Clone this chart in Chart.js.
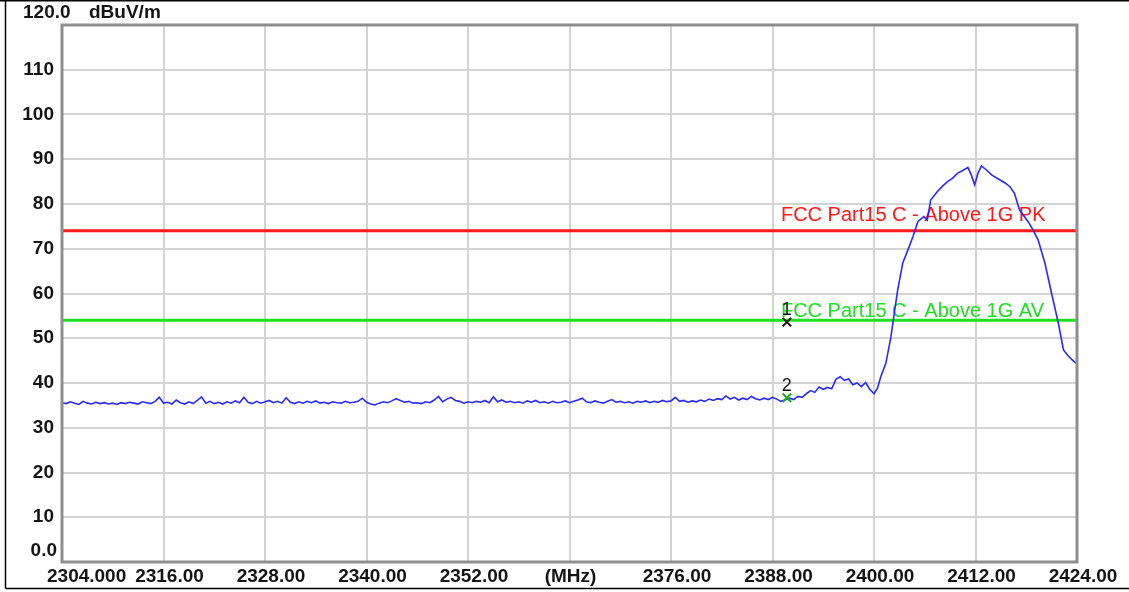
<!DOCTYPE html>
<html>
<head>
<meta charset="utf-8">
<script src="https://cdn.jsdelivr.net/npm/chart.js@4.4.1/dist/chart.umd.min.js"></script>
<style>
html, body { margin: 0; padding: 0; background: #fff; }
#wrap { width: 1129px; height: 592px; position: relative; }
</style>
</head>
<body>
<div id="wrap"><canvas id="chart"></canvas></div>
<script>
// sweep: frequency (MHz) and level (dBuV/m)
var freqs = [
  2304.0, 2304.5, 2305.0, 2305.5, 2306.0, 2306.5, 2307.0, 2307.5, 2308.0, 2308.5,
  2309.0, 2309.5, 2310.0, 2310.5, 2311.0, 2311.5, 2312.0, 2312.5, 2313.0, 2313.5,
  2314.0, 2314.5, 2315.0, 2315.5, 2316.0, 2316.5, 2317.0, 2317.5, 2318.0, 2318.5,
  2319.0, 2319.5, 2320.0, 2320.5, 2321.0, 2321.5, 2322.0, 2322.5, 2323.0, 2323.5,
  2324.0, 2324.5, 2325.0, 2325.5, 2326.0, 2326.5, 2327.0, 2327.5, 2328.0, 2328.5,
  2329.0, 2329.5, 2330.0, 2330.5, 2331.0, 2331.5, 2332.0, 2332.5, 2333.0, 2333.5,
  2334.0, 2334.5, 2335.0, 2335.5, 2336.0, 2336.5, 2337.0, 2337.5, 2338.0, 2338.5,
  2339.0, 2339.5, 2340.0, 2340.5, 2341.0, 2341.5, 2342.0, 2342.5, 2343.0, 2343.5,
  2344.0, 2344.5, 2345.0, 2345.5, 2346.0, 2346.5, 2347.0, 2347.5, 2348.0, 2348.5,
  2349.0, 2349.5, 2350.0, 2350.5, 2351.0, 2351.5, 2352.0, 2352.5, 2353.0, 2353.5,
  2354.0, 2354.5, 2355.0, 2355.5, 2356.0, 2356.5, 2357.0, 2357.5, 2358.0, 2358.5,
  2359.0, 2359.5, 2360.0, 2360.5, 2361.0, 2361.5, 2362.0, 2362.5, 2363.0, 2363.5,
  2364.0, 2364.5, 2365.0, 2365.5, 2366.0, 2366.5, 2367.0, 2367.5, 2368.0, 2368.5,
  2369.0, 2369.5, 2370.0, 2370.5, 2371.0, 2371.5, 2372.0, 2372.5, 2373.0, 2373.5,
  2374.0, 2374.5, 2375.0, 2375.5, 2376.0, 2376.5, 2377.0, 2377.5, 2378.0, 2378.5,
  2379.0, 2379.5, 2380.0, 2380.5, 2381.0, 2381.5, 2382.0, 2382.5, 2383.0, 2383.5,
  2384.0, 2384.5, 2385.0, 2385.5, 2386.0, 2386.5, 2387.0, 2387.5, 2388.0, 2388.5,
  2389.0, 2389.5, 2390.0, 2390.5, 2391.0, 2391.5, 2392.0, 2392.5, 2393.0, 2393.5,
  2394.0, 2394.5, 2395.0, 2395.5, 2396.0, 2396.5, 2397.0, 2397.5, 2398.0, 2398.5,
  2399.0, 2399.5, 2400.0, 2400.4, 2400.8, 2401.4, 2402.0, 2402.4, 2402.8, 2403.4,
  2404.0, 2404.6, 2405.2, 2405.9, 2406.3, 2406.7, 2407.5, 2408.1, 2408.7, 2409.3,
  2409.9, 2410.5, 2411.1, 2411.5, 2411.9, 2412.3, 2412.7, 2413.3, 2413.9, 2414.7,
  2415.5, 2416.1, 2416.6, 2417.2, 2418.2, 2418.8, 2419.4, 2420.2, 2421.0, 2421.8,
  2422.4, 2422.9, 2423.4, 2423.9, 2424.0
];
var levels = [
  35.6, 35.4, 35.8, 35.5, 35.2, 35.9, 35.5, 35.3, 35.7, 35.4,
  35.6, 35.3, 35.5, 35.2, 35.6, 35.4, 35.7, 35.5, 35.3, 35.8,
  35.6, 35.4, 35.9, 36.8, 35.5, 35.7, 35.3, 36.2, 35.6, 35.3,
  35.8, 35.4, 36.1, 36.9, 35.5, 35.9, 35.4, 35.7, 35.3, 35.8,
  35.5, 36.0, 35.6, 36.8, 35.7, 35.4, 35.9, 35.5, 35.8, 36.1,
  35.6, 35.9, 35.5, 36.7, 35.7, 35.4, 35.8, 35.5, 35.9, 35.6,
  36.0, 35.5, 35.7, 35.4, 35.8, 35.6, 35.5, 35.9, 35.6, 35.7,
  35.9, 36.6, 35.7, 35.3, 35.1, 35.5, 35.8, 35.6, 36.0, 36.5,
  36.1, 35.7, 35.9, 35.5, 35.6, 35.4, 35.8, 35.6, 36.2, 37.0,
  35.8, 36.4, 36.8, 36.1, 35.9, 35.5, 35.8, 35.6, 35.9, 35.7,
  36.1, 35.6, 36.9, 35.8, 36.2, 35.7, 35.9, 35.6, 35.8, 35.5,
  36.0, 35.7, 36.1, 35.6, 35.8, 35.5, 35.9, 35.6, 35.7, 36.0,
  35.6, 35.9, 36.2, 36.6, 35.8, 35.6, 36.0, 35.7, 35.5, 35.9,
  36.3, 35.7, 35.9, 35.6, 35.8, 35.5, 35.9, 35.7, 36.0, 35.6,
  35.9, 35.7, 36.1, 35.8, 36.0, 36.8, 35.9, 36.1, 35.7, 36.0,
  35.8, 36.2, 35.9, 36.4, 36.1, 36.5, 36.3, 37.1, 36.4, 36.8,
  36.2, 36.6, 36.3, 37.0, 36.5, 36.2, 36.6, 36.3, 36.8, 36.4,
  35.9, 36.2, 36.6, 36.3, 37.0, 36.8, 37.6, 38.3, 37.9, 39.1,
  38.6, 39.0, 38.7, 40.8, 41.4, 40.6, 40.9, 39.6, 40.0, 39.2,
  40.1, 38.6, 37.6, 38.8, 41.4, 44.4, 50.3, 55.6, 60.8, 66.8,
  69.7, 72.7, 76.1, 77.2, 76.4, 80.9, 82.8, 84.0, 85.0, 85.8,
  86.9, 87.5, 88.2, 86.5, 84.3, 86.9, 88.5, 87.6, 86.5, 85.6,
  84.7, 83.8, 82.4, 78.7, 76.1, 74.2, 72.0, 66.8, 60.0, 53.3,
  47.4, 46.2, 45.2, 44.4, 44.2
];

// limit lines
var limitNames = ['FCC Part15 C - Above 1G PK', 'FCC Part15 C - Above 1G AV'];
var limitLevels = [74, 54];
var limitColors = ['#ff1a1a', '#1ee01e'];

// markers
var markerNames = ['1', '2'];
var markerFreqs = [2389.7, 2389.7];
var markerLevels = [53.6, 36.7];
var markerColors = ['#111111', '#22aa22'];

// axes
var xTicks = [2304, 2316, 2328, 2340, 2352, 2364, 2376, 2388, 2400, 2412, 2424];
var xTickLabels = ['2304.000', '2316.00', '2328.00', '2340.00', '2352.00', '(MHz)',
  '2376.00', '2388.00', '2400.00', '2412.00', '2424.00'];
var yTicks = [0, 10, 20, 30, 40, 50, 60, 70, 80, 90, 100, 110, 120];
var yTickLabels = ['0.0', '10', '20', '30', '40', '50', '60', '70', '80', '90', '100', '110', '120.0'];
var yUnit = 'dBuV/m';

var FONT = '"Liberation Sans", Arial, sans-serif';

var sweep = freqs.map(function (f, i) { return { x: f, y: levels[i] }; });

var datasets = [{
  data: sweep,
  borderColor: '#2a2aff',
  borderWidth: 1.6,
  pointRadius: 0,
  tension: 0,
  order: 0
}];
limitLevels.forEach(function (v, i) {
  datasets.push({
    data: [{ x: xTicks[0], y: v }, { x: xTicks[xTicks.length - 1], y: v }],
    borderColor: limitColors[i],
    borderWidth: 3,
    pointRadius: 0,
    order: 2
  });
});
markerFreqs.forEach(function (f, i) {
  datasets.push({
    type: 'scatter',
    data: [{ x: f, y: markerLevels[i] }],
    pointStyle: 'crossRot',
    pointRadius: 6,
    borderWidth: 2,
    borderColor: markerColors[i],
    backgroundColor: markerColors[i],
    order: -1
  });
});

var decor = {
  id: 'decor',
  beforeDatasetsDraw: function (chart) {
    var ctx = chart.ctx, x = chart.scales.x, y = chart.scales.y;
    ctx.save();
    ctx.font = '20px ' + FONT;
    ctx.textAlign = 'left';
    ctx.textBaseline = 'alphabetic';
    limitLevels.forEach(function (v, i) {
      ctx.fillStyle = limitColors[i];
      var off = i === 0 ? 10 : 3;
      ctx.fillText(limitNames[i], x.getPixelForValue(2389.0), y.getPixelForValue(v) - off);
    });
    ctx.restore();
  },
  afterDraw: function (chart) {
    var ctx = chart.ctx, x = chart.scales.x, y = chart.scales.y, a = chart.chartArea;
    ctx.save();
    // outer frame
    ctx.strokeStyle = '#000';
    ctx.lineWidth = 1.5;
    ctx.beginPath();
    ctx.moveTo(0, 0.75); ctx.lineTo(chart.width, 0.75);
    ctx.moveTo(5.5, 0); ctx.lineTo(5.5, 588.5);
    ctx.moveTo(5.5, 588.5); ctx.lineTo(chart.width, 588.5);
    ctx.stroke();
    // plot frame
    ctx.strokeStyle = '#8f8f8f';
    ctx.lineWidth = 3;
    ctx.strokeRect(a.left, a.top, a.right - a.left, a.bottom - a.top);

    // marker numbers
    ctx.fillStyle = '#111';
    ctx.font = '18px ' + FONT;
    ctx.textAlign = 'center';
    ctx.textBaseline = 'alphabetic';
    markerNames.forEach(function (m, i) {
      ctx.fillText(m, x.getPixelForValue(markerFreqs[i]), y.getPixelForValue(markerLevels[i]) - 7);
    });

    // tick labels
    ctx.fillStyle = '#141414';
    ctx.font = 'bold 19px ' + FONT;
    ctx.textBaseline = 'middle';
    xTicks.forEach(function (v, i) {
      var px = x.getPixelForValue(v);
      if (i === 0) {
        ctx.textAlign = 'left';
        ctx.fillText(xTickLabels[i], px - 15, a.bottom + 15);
      } else {
        ctx.textAlign = 'center';
        ctx.fillText(xTickLabels[i], px + (xTickLabels[i] === '(MHz)' ? 1 : 6), a.bottom + 15);
      }
    });
    yTicks.forEach(function (v, i) {
      var py = y.getPixelForValue(v);
      if (i === yTicks.length - 1) {
        ctx.textAlign = 'left';
        ctx.fillText(yTickLabels[i], 23, py - 12);
        ctx.fillText(yUnit, 89, py - 12);
      } else if (i === 0) {
        ctx.textAlign = 'right';
        ctx.fillText(yTickLabels[i], 57, py - 11);
      } else {
        ctx.textAlign = 'right';
        ctx.fillText(yTickLabels[i], 54, py);
      }
    });
    ctx.restore();
  }
};

new Chart(document.getElementById('chart').getContext('2d'), {
  type: 'line',
  data: { datasets: datasets },
  options: {
    responsive: true,
    maintainAspectRatio: false,
    animation: false,
    layout: { padding: { left: 62, right: 52, top: 25, bottom: 30 } },
    plugins: { legend: { display: false }, tooltip: { enabled: false } },
    scales: {
      x: {
        type: 'linear',
        min: xTicks[0],
        max: xTicks[xTicks.length - 1],
        afterBuildTicks: function (s) { s.ticks = xTicks.map(function (v) { return { value: v }; }); },
        ticks: { display: false },
        grid: { color: '#d4d4d4', lineWidth: 2, drawTicks: false },
        border: { display: false }
      },
      y: {
        min: yTicks[0],
        max: yTicks[yTicks.length - 1],
        afterBuildTicks: function (s) { s.ticks = yTicks.map(function (v) { return { value: v }; }); },
        ticks: { display: false },
        grid: { color: '#d4d4d4', lineWidth: 2, drawTicks: false },
        border: { display: false }
      }
    }
  },
  plugins: [decor]
});
</script>
</body>
</html>
